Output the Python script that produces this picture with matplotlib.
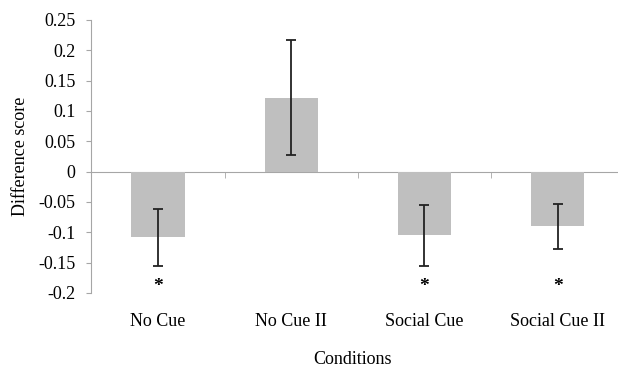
import matplotlib.pyplot as plt
import numpy as np

conditions = ['No Cue', 'No Cue II', 'Social Cue', 'Social Cue II']
diff_score = [-0.108, 0.122, -0.105, -0.090]
err = [0.047, 0.095, 0.050, 0.037]
significant = [True, False, True, True]
star_y = -0.19

plt.rcParams['font.family'] = ['Liberation Serif', 'DejaVu Serif']

fig = plt.figure(figsize=(6.18, 3.68), dpi=100)
ax = fig.add_axes([0.148, 0.204, 0.862, 0.742])

x = np.arange(len(conditions))
ax.bar(x, diff_score, width=0.4, color='#bfbfbf', zorder=2)
ax.errorbar(x, diff_score, yerr=err, fmt='none', ecolor='#222222',
            elinewidth=1.3, capsize=3.8, capthick=1.3, zorder=3)
for xi, sig in zip(x, significant):
    if sig:
        ax.text(xi, star_y, '*', ha='center', va='center', fontsize=14,
                fontweight='bold', color='black')

ax.set_xlim(-0.5, 3.5)
ax.set_ylim(-0.2, 0.25)
ax.set_yticks(np.arange(-0.2, 0.251, 0.05))
ax.set_yticklabels(['-0.2', '-0.15', '-0.1', '-0.05', '0', '0.05', '0.1',
                    '0.15', '0.2', '0.25'])
ax.tick_params(axis='y', labelsize=13, length=3.5, color='#a6a6a6', pad=8)

for s in ['top', 'right']:
    ax.spines[s].set_visible(False)
ax.spines['left'].set_color('#a6a6a6')
ax.spines['bottom'].set_position(('data', 0))
ax.spines['bottom'].set_color('#a6a6a6')
ax.spines['bottom'].set_zorder(1)

ax.set_xticks(x)
ax.set_xticklabels(conditions)
ax.set_xticks([0.5, 1.5, 2.5], minor=True)
ax.tick_params(axis='x', which='major', length=0, labelsize=13, pad=102)
ax.tick_params(axis='x', which='minor', length=4, color='#a6a6a6')

ax.set_ylabel('Difference score', fontsize=13, labelpad=7)
ax.text(0.49, -0.245, 'Conditions', transform=ax.transAxes, ha='center',
        va='center', fontsize=13)

fig.savefig('out.png', dpi=100)
